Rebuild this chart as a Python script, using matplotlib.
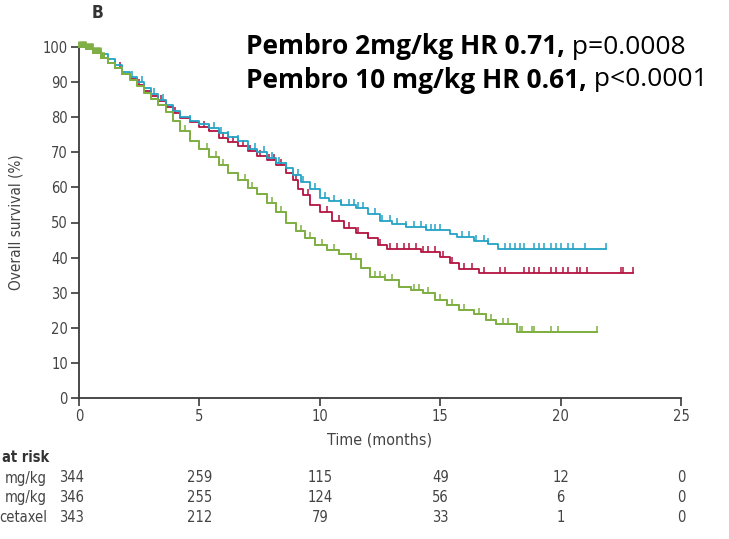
import numpy as np
import matplotlib
matplotlib.use("Agg")
import matplotlib.pyplot as plt
from matplotlib.path import Path

# --- Kaplan-Meier step data (time in months, overall survival in %) ---
t_10mg = [0, 0.3, 0.6, 0.9, 1.2, 1.5, 1.8, 2.1, 2.4, 2.7, 3.0, 3.3, 3.6, 3.9, 4.2, 4.6,
          5.0, 5.4, 5.8, 6.2, 6.6, 7.0, 7.4, 7.8, 8.2, 8.6, 8.9, 9.2, 9.6, 10.0, 10.4,
          10.9, 11.5, 12.0, 12.5, 13.0, 13.6, 14.4, 15.4, 15.7, 16.4, 17.0, 17.4, 21.9]
s_10mg = [100, 99.5, 98.8, 98.0, 96.5, 94.8, 93.0, 91.5, 90.0, 88.2, 86.5, 85.0, 83.5,
          81.8, 80.0, 79.0, 78.2, 77.0, 75.5, 74.5, 73.2, 71.0, 70.0, 68.5, 67.0, 65.5,
          63.5, 61.5, 59.5, 57.0, 56.0, 55.0, 54.2, 52.5, 50.5, 49.5, 48.8, 47.8, 46.8,
          45.8, 44.8, 43.8, 42.5, 42.5]
c_10mg = [1.5, 2.2, 2.6, 3.1, 3.5, 4.6, 5.6, 5.9, 6.2, 6.6, 7.3, 7.7, 8.0, 8.3, 8.6, 9.1,
          9.3, 9.8, 10.2, 10.6, 10.9, 11.2, 11.4, 11.6, 11.8, 12.3, 12.6, 12.9, 13.2,
          13.6, 13.9, 14.2, 14.4, 14.6, 14.8, 15.0, 15.9, 16.2, 16.5, 16.8, 17.0, 17.7,
          17.9, 18.1, 18.3, 18.5, 18.9, 19.1, 19.3, 19.6, 19.8, 20.0, 20.3, 20.5, 21.0, 21.9]

t_2mg = [0, 0.3, 0.6, 0.9, 1.2, 1.5, 1.8, 2.1, 2.4, 2.7, 3.0, 3.3, 3.6, 3.9, 4.2, 4.6,
         5.0, 5.4, 5.8, 6.2, 6.6, 7.0, 7.4, 7.8, 8.2, 8.6, 8.9, 9.1, 9.3, 9.6, 10.0, 10.5,
         11.0, 11.5, 12.0, 12.4, 12.8, 14.2, 15.0, 15.4, 15.8, 16.6, 23.0]
s_2mg = [100, 99.3, 98.3, 97.0, 95.5, 94.0, 92.3, 90.8, 89.3, 87.5, 86.0, 84.5, 83.0,
         81.3, 79.8, 78.5, 77.2, 76.0, 74.0, 73.0, 71.8, 70.5, 69.0, 67.8, 66.4, 64.0,
         62.0, 59.5, 57.8, 55.0, 53.0, 50.5, 48.5, 47.0, 45.5, 43.5, 42.5, 41.5, 40.2,
         38.5, 36.8, 35.6, 35.6]
c_2mg = [1.7, 2.5, 3.4, 4.0, 5.2, 5.4, 6.0, 6.4, 6.8, 7.1, 7.5, 7.9, 8.1, 8.4, 9.0, 9.5,
         10.3, 10.8, 11.2, 11.6, 12.0, 12.5, 12.9, 13.2, 13.5, 13.7, 14.0, 14.3, 14.5,
         14.8, 15.1, 15.5, 16.0, 16.3, 16.8, 17.5, 17.7, 18.5, 18.7, 18.9, 19.1, 19.6,
         19.8, 20.1, 20.3, 20.7, 20.8, 21.1, 22.5, 22.6, 23.0]

t_doc = [0, 0.3, 0.6, 0.9, 1.2, 1.5, 1.8, 2.1, 2.4, 2.7, 3.0, 3.3, 3.6, 3.9, 4.2, 4.6,
         5.0, 5.4, 5.8, 6.2, 6.6, 7.0, 7.4, 7.8, 8.2, 8.6, 9.0, 9.4, 9.8, 10.3, 10.8,
         11.3, 11.7, 12.1, 12.7, 13.3, 13.8, 14.3, 14.8, 15.3, 15.8, 16.4, 16.9, 17.3,
         18.2, 21.5]
s_doc = [100, 99.3, 98.3, 97.0, 95.5, 94.0, 92.3, 90.5, 89.0, 87.0, 85.2, 83.5, 81.5,
         79.0, 76.0, 73.2, 71.0, 68.8, 66.5, 64.0, 62.0, 59.8, 58.0, 55.5, 53.0, 50.0,
         47.5, 45.5, 43.5, 42.3, 41.0, 39.5, 37.0, 34.5, 33.5, 31.7, 30.8, 29.8, 28.0,
         26.5, 25.0, 23.8, 22.2, 21.2, 18.8, 18.8]
# early censoring at the start of docetaxel forms a dense block on the 100% line
c_doc_early = [0.02, 0.08, 0.14, 0.2, 0.26, 0.32, 0.38, 0.44, 0.5, 0.56, 0.62, 0.68,
               0.74, 0.8, 0.86, 0.92, 0.98, 1.0]
c_doc = [4.4, 5.3, 5.7, 6.0, 6.9, 7.2, 8.0, 8.4, 9.2, 9.6, 10.1, 10.6, 11.5, 12.3, 12.5,
         12.7, 13.0, 13.9, 14.1, 14.5, 15.0, 15.5, 16.0, 16.6, 17.1, 17.6, 17.8, 18.3,
         18.4, 18.8, 18.9, 19.6, 19.9, 21.5]

x_ticks = [0, 5, 10, 15, 20, 25]
risk_rows = ["mg/kg", "mg/kg", "cetaxel"]
risk_2mg = [344, 259, 115, 49, 12, 0]
risk_10mg = [346, 255, 124, 56, 6, 0]
risk_doc = [343, 212, 79, 33, 1, 0]

BLUE = "#23a3c6"
RED = "#b3133f"
GREEN = "#7fb043"
AXIS = "#3a3a3a"
LABEL = "#444444"
NARROW = dict(family="DejaVu Sans", stretch="condensed")

# censor tick: short vertical line rising from the curve
tick = Path([(0, 0), (0, 1)], [Path.MOVETO, Path.LINETO])

fig = plt.figure(figsize=(7.29, 5.39), dpi=100)
ax = fig.add_axes([79 / 729, 1 - 398 / 539, 602 / 729, 351 / 539])


def km(times, surv, cens, color, mew=1.1):
    ax.step(times, surv, where="post", color=color, lw=1.3, clip_on=False, zorder=3)
    idx = np.searchsorted(times, cens, side="right") - 1
    ys = np.asarray(surv)[idx]
    ax.plot(cens, ys, linestyle="none", marker=tick, markersize=9, mew=mew,
            color=color, clip_on=False, zorder=3)


km(t_2mg, s_2mg, c_2mg, RED)
km(t_10mg, s_10mg, c_10mg, BLUE)
km(t_doc, s_doc, c_doc, GREEN)
km(t_doc, s_doc, c_doc_early, GREEN, mew=2.0)

ax.set_xlim(0, 25)
ax.set_ylim(0, 100)
ax.set_xticks(x_ticks)
ax.set_yticks(range(0, 101, 10))
for side in ("top", "right"):
    ax.spines[side].set_visible(False)
for side in ("left", "bottom"):
    ax.spines[side].set_color(AXIS)
    ax.spines[side].set_linewidth(1.3)
ax.tick_params(direction="out", length=6, width=1.2, color=AXIS, labelcolor=LABEL,
               labelsize=10.5, pad=2)
for lab in ax.get_xticklabels() + ax.get_yticklabels():
    lab.set_fontstretch("condensed")

ax.set_ylabel("Overall survival (%)", fontsize=11, color=LABEL, labelpad=14, **NARROW)
ax.set_xlabel("Time (months)", fontsize=11.5, color=LABEL, labelpad=6, **NARROW)

fig.text(92 / 729, 1 - 13 / 539, "B", fontsize=12.5, fontweight="bold",
         color="#333333", ha="left", va="center", **NARROW)

# hazard ratio annotation: bold lead-in followed by regular p-value
fig.canvas.draw()
renderer = fig.canvas.get_renderer()
for y_px, bold, plain in [(47, "Pembro 2mg/kg HR 0.71,", " p=0.0008"),
                          (80, "Pembro 10 mg/kg HR 0.61,", " p<0.0001")]:
    t1 = fig.text(246 / 729, 1 - y_px / 539, bold, family="Open Sans", fontsize=19,
                  fontweight="bold", color="black", ha="left", va="center")
    bb = t1.get_window_extent(renderer)
    fig.text(bb.x1 / fig.bbox.width, 1 - y_px / 539, plain, family="Open Sans",
             fontsize=19, color="black", ha="left", va="center")

# number at risk table
trans = ax.get_xaxis_transform()
fig.text(2 / 729, 1 - 458 / 539, "at risk", fontsize=10.5, fontweight="bold",
         color="#333333", ha="left", va="center", **NARROW)
for row, (name, counts) in enumerate(zip(risk_rows, [risk_2mg, risk_10mg, risk_doc])):
    y_px = 478 + row * 19.5
    fig.text(47 / 729, 1 - y_px / 539, name, fontsize=10.5, color=LABEL,
             ha="right", va="center", **NARROW)
    for xt, n in zip(x_ticks, counts):
        xpos = xt - 0.3 if xt == 0 else xt
        ax.text(xpos, (398 - y_px) / 351, str(n), transform=trans, fontsize=10.5,
                color=LABEL, ha="center", va="center", clip_on=False, **NARROW)

fig.savefig("out.png", dpi=100)
